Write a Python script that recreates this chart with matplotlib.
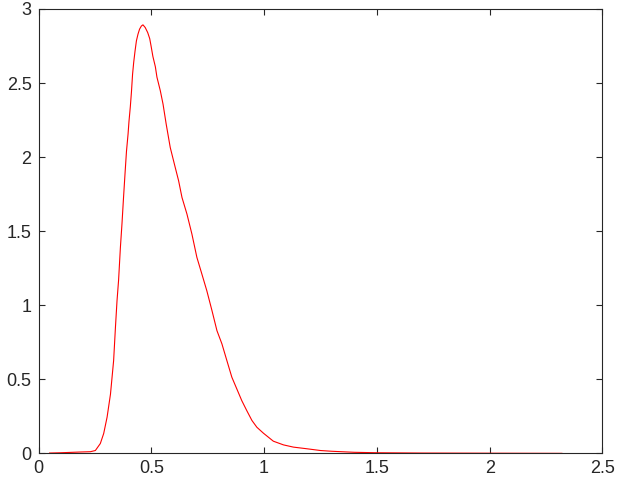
import matplotlib
matplotlib.use("Agg")
from matplotlib import pyplot as plt

plt.rcParams['font.family'] = ['Liberation Sans', 'DejaVu Sans']

# density curve
x_vals = [0.049, 0.10, 0.186, 0.23, 0.252, 0.274, 0.289, 0.304, 0.319, 0.333,
          0.341, 0.348, 0.355, 0.363, 0.370, 0.377, 0.384, 0.390, 0.397, 0.401,
          0.407, 0.412, 0.417, 0.422, 0.428, 0.434, 0.441, 0.448, 0.456, 0.463,
          0.473, 0.484, 0.493, 0.499, 0.507, 0.518, 0.525, 0.540, 0.552, 0.566,
          0.584, 0.606, 0.621, 0.636, 0.658, 0.680, 0.702, 0.724, 0.746, 0.769,
          0.791, 0.813, 0.835, 0.857, 0.879, 0.901, 0.923, 0.946, 0.968, 0.997,
          1.041, 1.086, 1.13, 1.189, 1.25, 1.30, 1.40, 1.50, 1.70, 2.00, 2.32]
y_vals = [0.003, 0.005, 0.01, 0.012, 0.02, 0.067, 0.135, 0.245, 0.40, 0.627,
          0.85, 1.03, 1.17, 1.39, 1.55, 1.73, 1.90, 2.04, 2.156, 2.24,
          2.34, 2.44, 2.56, 2.64, 2.717, 2.785, 2.83, 2.864, 2.885, 2.893,
          2.875, 2.841, 2.80, 2.75, 2.68, 2.61, 2.54, 2.448, 2.358, 2.223,
          2.065, 1.931, 1.841, 1.728, 1.616, 1.481, 1.324, 1.212, 1.099, 0.964,
          0.829, 0.740, 0.627, 0.515, 0.436, 0.357, 0.290, 0.223, 0.177, 0.137,
          0.083, 0.058, 0.043, 0.032, 0.02, 0.015, 0.008, 0.005, 0.003, 0.002, 0.001]

x_ticks = [0, 0.5, 1, 1.5, 2, 2.5]
y_ticks = [0, 0.5, 1, 1.5, 2, 2.5, 3]

fig = plt.figure(figsize=(6.18, 4.83), dpi=100)
ax = fig.add_axes([0.0623, 0.0611, 0.9126, 0.9203])

ax.plot(x_vals, y_vals, color='red', linewidth=0.8)

ax.set_xlim(0, 2.5)
ax.set_ylim(0, 3)
ax.set_xticks(x_ticks)
ax.set_yticks(y_ticks)
ax.set_xticklabels([f'{t:g}' for t in x_ticks])
ax.set_yticklabels([f'{t:g}' for t in y_ticks])

for sp in ax.spines.values():
    sp.set_color('#262626')
    sp.set_linewidth(0.8)
ax.tick_params(direction='in', length=4, width=0.8, color='#262626',
               top=True, right=True, labelsize=13, labelcolor='#262626', pad=5)

fig.savefig('out.png', dpi=100)
